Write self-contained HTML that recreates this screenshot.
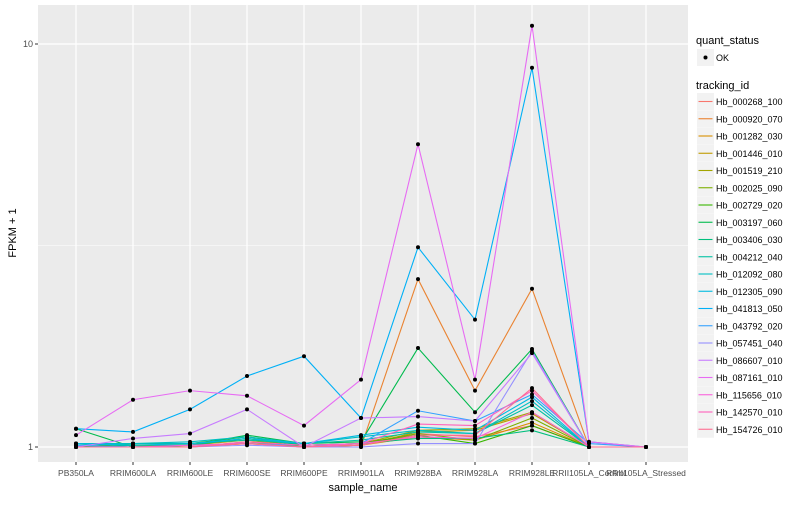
<!DOCTYPE html>
<html><head><meta charset="utf-8"><style>
body{margin:0;background:#fff;font-family:"Liberation Sans",sans-serif}
svg text{font-family:"Liberation Sans",sans-serif}
</style></head><body>
<svg id="chart" width="800" height="500">
<rect x="38" y="5" width="650" height="457" fill="#ebebeb"/>
<g id="grid"></g><g id="lines"></g><g id="pts"></g><g id="axes"></g><g id="legend"></g>
</svg>
<script>
const categories=["PB350LA","RRIM600LA","RRIM600LE","RRIM600SE","RRIM600PE","RRIM901LA","RRIM928BA","RRIM928LA","RRIM928LE","RRII105LA_Control","RRII105LA_Stressed"];
const seriesNames=["Hb_000268_100","Hb_000920_070","Hb_001282_030","Hb_001446_010","Hb_001519_210","Hb_002025_090","Hb_002729_020","Hb_003197_060","Hb_003406_030","Hb_004212_040","Hb_012092_080","Hb_012305_090","Hb_041813_050","Hb_043792_020","Hb_057451_040","Hb_086607_010","Hb_087161_010","Hb_115656_010","Hb_142570_010","Hb_154726_010"];
const colors=["#F8766D","#EA8331","#D89000","#C09B00","#A3A500","#7CAE00","#39B600","#00BB4E","#00BF7D","#00C1A3","#00BFC4","#00BAE0","#00B0F6","#35A2FF","#9590FF","#C77CFF","#E76BF3","#FA62DB","#FF62BC","#FF6C91"];
const s0=[1,1,1.01,1.02,1,1.01,1.08,1.06,1.13,1,1];
const s1=[1,1,1,1.02,1,1,2.61,1.38,2.47,1,1];
const s2=[1,1.01,1.01,1.04,1,1.01,1.06,1.04,1.15,1,1];
const s3=[1,1,1,1.02,1,1.01,1.09,1.1,1.21,1,1];
const s4=[1,1.01,1,1.03,1,1.02,1.1,1.11,1.22,1,1];
const s5=[1,1,1.01,1.05,1,1.02,1.08,1.04,1.18,1,1];
const s6=[1,1.02,1.02,1.06,1.01,1.02,1.07,1.02,1.13,1,1];
const s7=[1.11,1,1.01,1.07,1.02,1.03,1.76,1.22,1.75,1,1];
const s8=[1,1.01,1.01,1.05,1.01,1.02,1.05,1.05,1.1,1,1];
const s9=[1.01,1.02,1.02,1.04,1.02,1.04,1.09,1.08,1.27,1,1];
const s10=[1.02,1.02,1.03,1.06,1.02,1.06,1.1,1.08,1.3,1,1];
const s11=[1.02,1.01,1.02,1.05,1.02,1.07,1.12,1.1,1.33,1,1];
const s12=[1.11,1.09,1.24,1.5,1.68,1.18,3.13,2.07,8.73,1.03,1];
const s13=[1.01,1,1.01,1.02,1.01,1.02,1.23,1.16,1.35,1.02,1];
const s14=[1,1,1,1.01,1,1,1.02,1.02,1.73,1,1];
const s15=[1,1.05,1.08,1.24,1,1.18,1.19,1.16,1.71,1,1];
const s16=[1.07,1.31,1.38,1.34,1.13,1.47,5.64,1.47,11.1,1.03,1];
const s17=[1,1,1.01,1.02,1,1.02,1.06,1.05,1.22,1,1];
const s18=[1,1,1,1.03,1.01,1.02,1.14,1.13,1.38,1,1];
const s19=[1,1,1,1.02,1,1.01,1.07,1.07,1.4,1,1];
const seriesValues=[s0,s1,s2,s3,s4,s5,s6,s7,s8,s9,s10,s11,s12,s13,s14,s15,s16,s17,s18,s19];
const yTickValues=[1,10];
const yTickLabels=["1","10"];
const NS="http://www.w3.org/2000/svg";
function mk(tag,attrs,parent){const e=document.createElementNS(NS,tag);for(const k in attrs)e.setAttribute(k,attrs[k]);parent.appendChild(e);return e;}
const X=i=>76+i*57;
const Y=v=>447-Math.log10(v)*403;
const grid=document.getElementById('grid');
[0.5].forEach(p=>{const l=mk('line',{x1:38,x2:688,y1:Y(Math.pow(10,p)),y2:Y(Math.pow(10,p)),stroke:'#fff','stroke-width':0.6},grid);

});
yTickValues.forEach(v=>{const l=mk('line',{x1:38,x2:688,y1:Y(v),y2:Y(v),stroke:'#fff','stroke-width':1.2},grid);

});
categories.forEach((c,i)=>{const l=mk('line',{x1:X(i),x2:X(i),y1:5,y2:462,stroke:'#fff','stroke-width':1.2},grid);

});
const lines=document.getElementById('lines'),pts=document.getElementById('pts');
seriesValues.forEach((vals,si)=>{
 const pl=mk('polyline',{points:vals.map((v,i)=>X(i)+','+Y(v)).join(' '),fill:'none',stroke:colors[si],'stroke-width':1.1},lines);
 
 
 vals.forEach((v,i)=>{const c=mk('circle',{cx:X(i),cy:Y(v),r:2,fill:'#000'},pts);
 
 });
});
const axes=document.getElementById('axes');
yTickValues.forEach((v,i)=>{
 const t=mk('line',{x1:35,x2:38,y1:Y(v),y2:Y(v),stroke:'#333'},axes);
 
 
 const tx=mk('text',{x:33,y:Y(v)+3,'text-anchor':'end','font-size':9,fill:'#4d4d4d'},axes);
 tx.textContent=yTickLabels[i];
 
 
});
categories.forEach((c,i)=>{
 const t=mk('line',{x1:X(i),x2:X(i),y1:462,y2:465,stroke:'#333'},axes);
 
 
 const tx=mk('text',{x:X(i),y:476,'text-anchor':'middle','font-size':8.5,fill:'#4d4d4d'},axes);
 tx.textContent=c;
 
 
});
const xt=mk('text',{x:363,y:491,'text-anchor':'middle','font-size':11,fill:'#000'},axes);xt.textContent='sample_name';


const yt=mk('text',{x:16,y:233,'text-anchor':'middle','font-size':11,fill:'#000',transform:'rotate(-90 16 233)'},axes);yt.textContent='FPKM + 1';


const lg=document.getElementById('legend');
const q=mk('text',{x:696,y:44,'font-size':11},lg);q.textContent='quant_status';


const qb=mk('rect',{x:697,y:49,width:17,height:17,fill:'#f2f2f2'},lg);


mk('circle',{cx:705.5,cy:57.5,r:2,fill:'#000'},lg);
const ok=mk('text',{x:716,y:61,'font-size':9},lg);ok.textContent='OK';


const tt=mk('text',{x:696,y:89,'font-size':11},lg);tt.textContent='tracking_id';


seriesNames.forEach((n,i)=>{
 const y=93+i*17.25;
 const g=mk('g',{},lg);
 
 
 mk('rect',{x:697,y:y,width:17,height:17,fill:'#f2f2f2'},g);
 mk('line',{x1:698.5,x2:712.5,y1:y+8.5,y2:y+8.5,stroke:colors[i],'stroke-width':1.1},g);
 const t=mk('text',{x:716,y:y+12,'font-size':9},g);t.textContent=n;
});
</script>
</body></html>
